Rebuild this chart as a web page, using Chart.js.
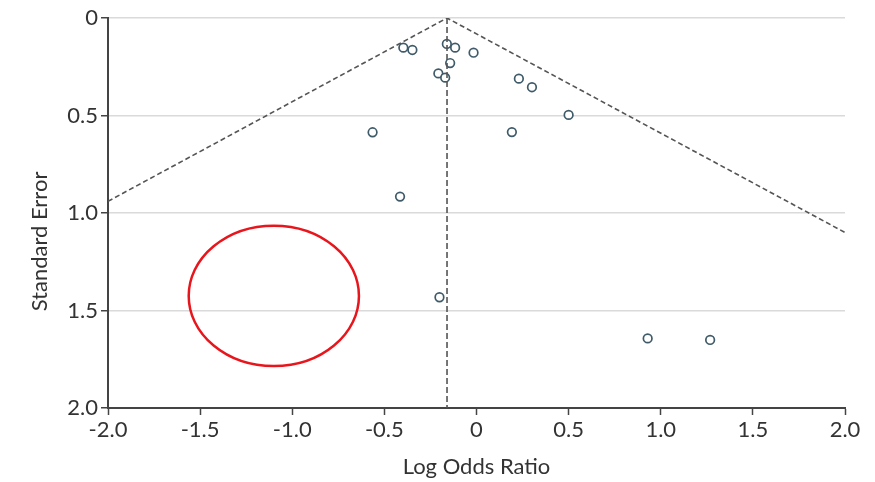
<!DOCTYPE html>
<html>
<head>
<meta charset="utf-8">
<title>Funnel plot</title>
<script src="https://cdn.jsdelivr.net/npm/chart.js@4/dist/chart.umd.min.js"></script>
<style>
  html, body { margin: 0; padding: 0; background: #fff; }
  #wrap { width: 875px; height: 482px; }
</style>
</head>
<body>
<div id="wrap"><canvas id="funnelChart" width="875" height="482"></canvas></div>
<script>
// Study estimates: log odds ratio and its standard error
const logOdds = [-0.397, -0.348, -0.161, -0.116, -0.016, -0.143, -0.207, -0.170, 0.230, 0.301,
                 0.500, -0.564, 0.192, -0.415, -0.201, 0.929, 1.268];
const stdErr  = [0.152, 0.164, 0.133, 0.152, 0.178, 0.231, 0.284, 0.306, 0.311, 0.355,
                 0.497, 0.586, 0.585, 0.916, 1.432, 1.643, 1.651];

// Pooled estimate and the pseudo 95% confidence limits
const pooled = -0.16;
const funnelX = [-2.0, pooled, 2.0];
const funnelY = [0.94, 0, 1.10];

// Highlighted empty region (centre and radii in data units)
const markCentre = [-1.10, 1.425];
const markRadius = [0.462, 0.36];

const xTicks = [-2.0, -1.5, -1.0, -0.5, 0, 0.5, 1.0, 1.5, 2.0];
const yTicks = [0, 0.5, 1.0, 1.5, 2.0];

const fmt = v => (v === 0 ? '0' : v.toFixed(1));
const axisColor = '#444';
const textColor = '#333';
const font = { family: 'Lato', size: 22 };

const ellipsePlugin = {
  id: 'regionMark',
  afterDatasetsDraw(chart) {
    const { ctx, scales: { x, y } } = chart;
    const cx = x.getPixelForValue(markCentre[0]);
    const cy = y.getPixelForValue(markCentre[1]);
    const rx = Math.abs(x.getPixelForValue(markCentre[0] + markRadius[0]) - cx);
    const ry = Math.abs(y.getPixelForValue(markCentre[1] + markRadius[1]) - cy);
    ctx.save();
    ctx.beginPath();
    ctx.ellipse(cx, cy, rx, ry, 0, 0, Math.PI * 2);
    ctx.strokeStyle = '#e8161c';
    ctx.lineWidth = 2.5;
    ctx.stroke();
    ctx.restore();
  }
};

// y-axis title sits a little below the middle of the axis, so draw it by hand
const yTitlePlugin = {
  id: 'yTitle',
  afterDraw(chart) {
    const { ctx, chartArea } = chart;
    ctx.save();
    ctx.translate(40, chartArea.top + (chartArea.bottom - chartArea.top) * 0.573);
    ctx.rotate(-Math.PI / 2);
    ctx.font = `${font.size}px ${font.family}`;
    ctx.fillStyle = textColor;
    ctx.textAlign = 'center';
    ctx.textBaseline = 'middle';
    ctx.fillText('Standard Error', 0, 0);
    ctx.restore();
  }
};

new Chart(document.getElementById('funnelChart'), {
  type: 'scatter',
  data: {
    datasets: [
      {
        label: 'Funnel',
        data: funnelX.map((v, i) => ({ x: v, y: funnelY[i] })),
        showLine: true,
        borderColor: '#555',
        borderWidth: 1.6,
        borderDash: [5, 3],
        pointRadius: 0,
        fill: false
      },
      {
        label: 'Pooled',
        data: [{ x: pooled, y: 0 }, { x: pooled, y: 2.0 }],
        showLine: true,
        borderColor: '#555',
        borderWidth: 1.6,
        borderDash: [6, 3],
        pointRadius: 0,
        fill: false
      },
      {
        label: 'Studies',
        data: logOdds.map((v, i) => ({ x: v, y: stdErr[i] })),
        pointRadius: 4.3,
        pointBorderWidth: 1.7,
        pointBorderColor: '#3f5b69',
        pointBackgroundColor: '#fff'
      }
    ]
  },
  options: {
    responsive: false,
    animation: false,
    layout: { padding: { left: 0, right: 30, top: 18, bottom: 0 } },
    plugins: { legend: { display: false }, tooltip: { enabled: false } },
    scales: {
      x: {
        type: 'linear',
        min: -2,
        max: 2,
        afterBuildTicks: s => { s.ticks = xTicks.map(v => ({ value: v })); },
        afterFit: s => { s.height = 74; },
        ticks: { color: textColor, font, padding: 2, maxRotation: 0, callback: fmt },
        grid: { drawOnChartArea: false, drawTicks: true, tickLength: 7, tickColor: axisColor, tickWidth: 1.5 },
        border: { display: true, color: axisColor, width: 2 },
        title: { display: true, text: 'Log Odds Ratio', color: textColor, font, padding: { top: 4, bottom: 2 } }
      },
      y: {
        type: 'linear',
        reverse: true,
        min: 0,
        max: 2,
        afterBuildTicks: s => { s.ticks = yTicks.map(v => ({ value: v })); },
        afterFit: s => { s.width = 108; },
        ticks: { color: textColor, font, padding: 3, callback: fmt },
        grid: {
          color: c => (c.tick && c.tick.value === 2 ? 'rgba(0,0,0,0)' : '#dadada'),
          lineWidth: 1.5,
          drawTicks: true,
          tickLength: 7,
          tickColor: axisColor,
          tickWidth: 1.5
        },
        border: { display: true, color: axisColor, width: 2 },
        title: { display: false }
      }
    }
  },
  plugins: [ellipsePlugin, yTitlePlugin]
});
</script>
</body>
</html>
